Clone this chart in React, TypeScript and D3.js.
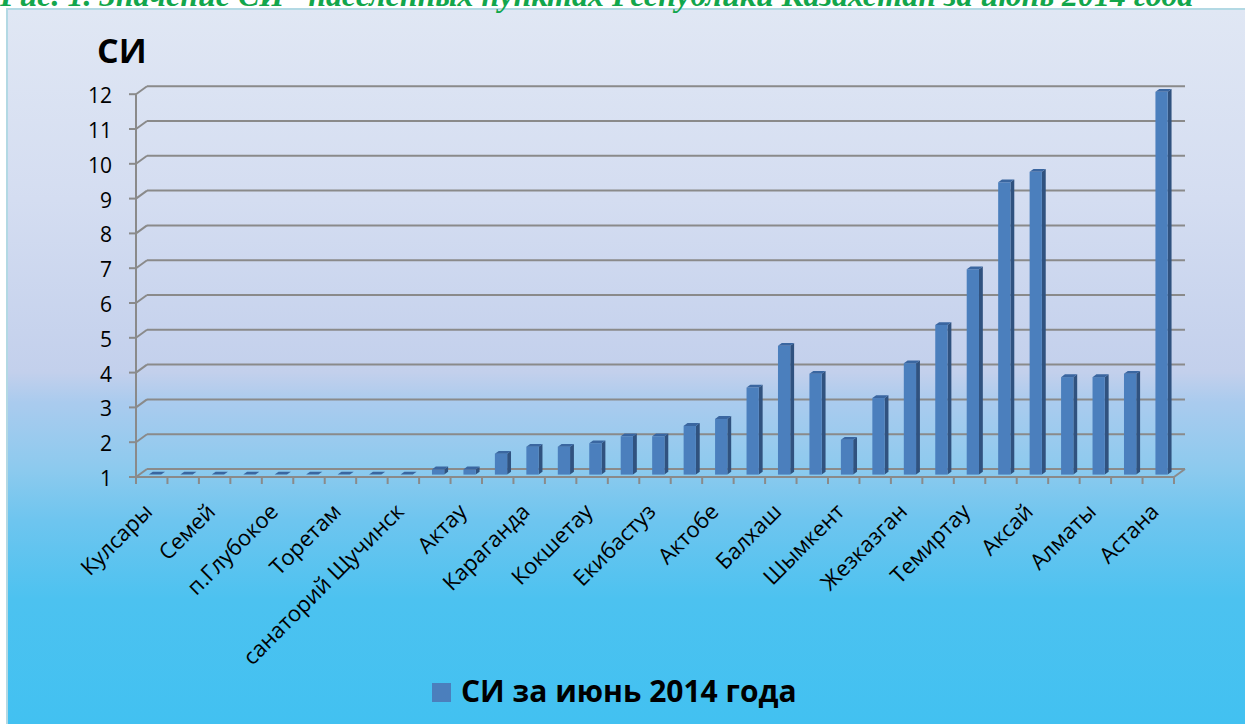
import React from 'react';
import * as d3 from 'd3';

const categories = [
  'Кулсары', 'Атырау', 'Семей', 'Риддер', 'п.Глубокое', 'Кызылорда', 'Торетам', 'Боровое',
  'санаторий Щучинск', 'Жанаозен', 'Актау', 'Уральск', 'Караганда', 'Костанай', 'Кокшетау',
  'Павлодар', 'Екибастуз', 'Тараз', 'Актобе', 'Петропавловск', 'Балхаш', 'Талдыкорган',
  'Шымкент', 'Туркестан', 'Жезказган', 'Усть-Каменогорск', 'Темиртау', 'Зыряновск', 'Аксай',
  'Сарань', 'Алматы', 'Рудный', 'Астана',
];
const values = [
  1, 1, 1, 1, 1, 1, 1, 1, 1, 1.15, 1.15, 1.6, 1.8, 1.8, 1.9, 2.1, 2.1, 2.4, 2.6, 3.5, 4.7, 3.9,
  2.0, 3.2, 4.2, 5.3, 6.9, 9.4, 9.7, 3.8, 3.8, 3.9, 12,
];
const yTicks = [1, 2, 3, 4, 5, 6, 7, 8, 9, 10, 11, 12];
const seriesName = 'СИ за июнь 2014 года';
const axisTitle = 'СИ';
const caption = 'Рис. 1. Значение СИ* населенных пунктах Республики Казахстан за июнь 2014 года';

const FONT = "'Open Sans', 'Noto Sans', sans-serif";

export default function App() {
  const W = 1245;
  const H = 724;
  const x = d3.scaleBand<string>().domain(categories).range([136, 1174]);
  const y = d3.scaleLinear().domain([1, 12]).range([477, 94.2]);
  const DX = 11;
  const DY = 8;
  const f0 = 0.3;
  const f1 = 0.65;
  const bw = x.bandwidth();
  const w = bw * 0.39;
  const dxs = DX * (f1 - f0);
  const dys = DY * (f1 - f0);
  const xL = x.range()[0];
  const xR = x.range()[1];
  const grid = '#8a8a8a';

  return (
    <svg width={W} height={H} style={{ position: 'absolute', left: 0, top: 0 }}>
      <defs>
        <linearGradient id="bg" gradientUnits="userSpaceOnUse" x1="0" y1="10" x2="0" y2="724">
          <stop offset={0} stopColor="#e0e7f4" />
          <stop offset={(200 - 10) / 714} stopColor="#d4ddf1" />
          <stop offset={(372 - 10) / 714} stopColor="#c3d0ec" />
          <stop offset={(402 - 10) / 714} stopColor="#aacbee" />
          <stop offset={(470 - 10) / 714} stopColor="#8ccaee" />
          <stop offset={(520 - 10) / 714} stopColor="#6ec5ef" />
          <stop offset={(600 - 10) / 714} stopColor="#4cc2f0" />
          <stop offset={1} stopColor="#42c1f1" />
        </linearGradient>
      </defs>
      <rect x={0} y={0} width={W} height={H} fill="#ffffff" />
      <rect x={7} y={9} width={1260} height={740} fill="url(#bg)" stroke="#b3d9e4" strokeWidth={2} />
      <text
        x={0}
        y={6}
        fontFamily="'Liberation Serif', 'DejaVu Serif', serif"
        fontStyle="italic"
        fontWeight="bold"
        fontSize={32}
        fill="#12a64c"
      >
        {caption}
      </text>

      {/* back wall gridlines and diagonals */}
      {yTicks.map((t) => (
        <g key={'g' + t}>
          <line x1={xL + DX} x2={xR + DX} y1={y(t) - DY} y2={y(t) - DY} stroke={grid} strokeWidth={2} />
          <line x1={xL} x2={xL + DX} y1={y(t)} y2={y(t) - DY} stroke={grid} strokeWidth={2} />
          <line x1={xL - 7} x2={xL} y1={y(t)} y2={y(t)} stroke={grid} strokeWidth={2} />
          <text
            x={112}
            y={y(t) + 9}
            textAnchor="end"
            fontFamily={FONT}
            fontSize={21}
            fill="#000"
          >
            {t}
          </text>
        </g>
      ))}
      {/* floor */}
      <line x1={xR} x2={xR + DX} y1={y(1)} y2={y(1) - DY} stroke={grid} strokeWidth={2} />

      {/* bars */}
      {categories.map((c, i) => {
        const x0 = (x(c) as number) + (bw - w) / 2 + DX * f0;
        const yTop = y(values[i]) - DY * f0;
        const yBase = y(1) - DY * f0;
        const side = [
          [x0 + w, yTop],
          [x0 + w + dxs, yTop - dys],
          [x0 + w + dxs, yBase - dys],
          [x0 + w, yBase],
        ];
        const top = [
          [x0, yTop],
          [x0 + w, yTop],
          [x0 + w + dxs, yTop - dys],
          [x0 + dxs, yTop - dys],
        ];
        return (
          <g key={c}>
            {yBase - yTop > 0 && (
              <>
                <polygon points={side.map((p) => p.join(',')).join(' ')} fill="#30527f" />
                <rect x={x0} y={yTop} width={w} height={yBase - yTop} fill="#4b7fbd" />
              </>
            )}
            <polygon points={top.map((p) => p.join(',')).join(' ')} fill="#3a66a0" />
          </g>
        );
      })}

      {/* front axes */}
      <line x1={xL} x2={xL} y1={y(12)} y2={y(1) + 1} stroke={grid} strokeWidth={2} />
      <line x1={xL} x2={xR} y1={y(1)} y2={y(1)} stroke={grid} strokeWidth={2} />
      {d3.range(categories.length + 1).map((k) => {
        const xx = xL + k * bw;
        return <line key={'t' + k} x1={xx} x2={xx} y1={y(1)} y2={y(1) + 7} stroke={grid} strokeWidth={2} />;
      })}

      {/* category labels */}
      {categories.map((c, i) =>
        i % 2 === 0 ? (
          <text
            key={'l' + c}
            transform={`translate(${(x(c) as number) + bw / 2 + 2},${513}) rotate(-45)`}
            textAnchor="end"
            fontFamily={FONT}
            fontSize={22}
            fill="#000"
          >
            {c}
          </text>
        ) : null
      )}

      {/* axis title */}
      <text x={97} y={63} fontFamily={FONT} fontWeight="bold" fontSize={34} fill="#000">
        {axisTitle}
      </text>

      {/* legend */}
      <rect x={432} y={683} width={19} height={19} fill="#4b7fbd" />
      <text x={461} y={702} fontFamily={FONT} fontWeight="bold" fontSize={30} fill="#000">
        {seriesName}
      </text>
    </svg>
  );
}
